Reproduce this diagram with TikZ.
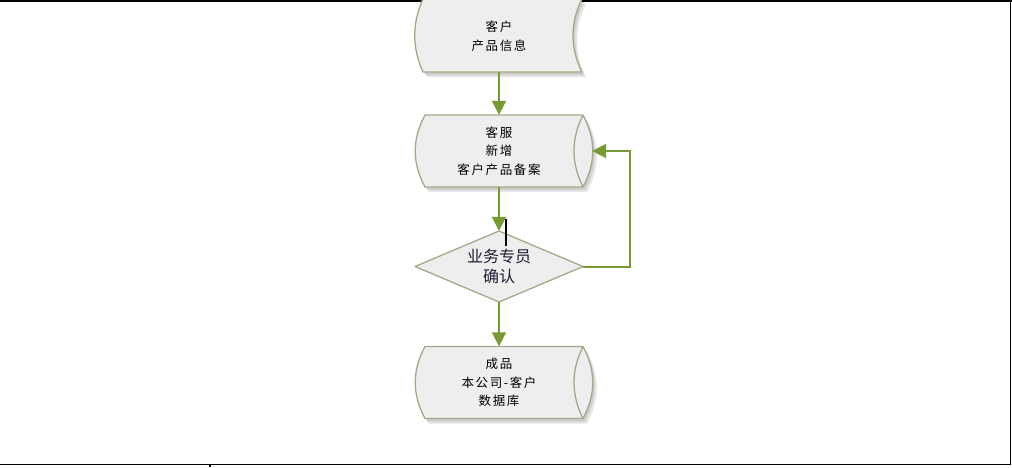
\documentclass[tikz,border=0pt]{standalone}
\usepackage{fontspec}
\newfontfamily\cjk[LetterSpace=13]{Noto Sans CJK SC}
\newfontfamily\cjkd{Noto Sans CJK SC}
\usetikzlibrary{arrows.meta,shapes.geometric}
\definecolor{flow}{HTML}{789A32}
\definecolor{edgec}{HTML}{A5A88A}
\definecolor{bodyc}{HTML}{EEEEEE}
\tikzset{
  symb/.style={draw=edgec, line width=1.3pt, fill=bodyc, line join=round},
  shad/.style={fill=black, opacity=0.10},
  frame/.style={line width=1.4pt, black},
  conn/.style={draw=flow, line width=2pt, -{Triangle[length=14pt,width=14pt]}},
  lbl/.style={font=\cjk\fontsize{12.5}{18.5}\selectfont, align=center, text=black},
  slot/.style={minimum width=168pt, minimum height=72pt, inner sep=0pt}
}
\newcommand\tapeshape{(423,-1) -- (582,-1) .. controls (570,23) and (570,48) .. (582,72) -- (423,72) .. controls (412,48) and (412,23) .. (423,-1) -- cycle}
\newcommand\cylshape{(425,0) -- (583,0) .. controls (596,24) and (596,48) .. (583,72) -- (425,72) .. controls (412,48) and (412,24) .. (425,0) -- cycle}
\newcommand\cylarc{(583,0) .. controls (571,24) and (571,48) .. (583,72)}
\newcommand\diashape{(415,266.5) -- (499,231) -- (583,266.5) -- (499,302) -- cycle}
\begin{document}
\begin{tikzpicture}[x=1pt,y=-1pt]
\useasboundingbox (0,0) rectangle (1012,467);
% frame
\draw[frame] (0,1) -- (1012,1);
\draw[frame] (1010.5,0) -- (1010.5,465);
\draw[frame] (0,464.5) -- (1011,464.5);
\draw[frame] (210,464.5) -- (210,467);
% shadows
\path[shad, shift={(4,5)}] \tapeshape;
\path[shad, shift={(2,3)}] \tapeshape;
\begin{scope}[shift={(0,115)}]
\path[shad, shift={(4,5)}] \cylshape;
\path[shad, shift={(2,3)}] \cylshape;
\end{scope}
\begin{scope}[shift={(0,346.5)}]
\path[shad, shift={(4,5)}] \cylshape;
\path[shad, shift={(2,3)}] \cylshape;
\end{scope}
% shapes
\draw[symb] \tapeshape;
\begin{scope}[shift={(0,115)}]
\draw[symb] \cylshape;
\draw[draw=edgec, line width=1.3pt] \cylarc;
\end{scope}
\begin{scope}[shift={(0,346.5)}]
\draw[symb] \cylshape;
\draw[draw=edgec, line width=1.3pt] \cylarc;
\end{scope}
\draw[symb] \diashape;
% nodes
\node[slot, lbl] (src) at (499,36) {客户\\产品信息};
\node[slot, lbl, minimum width=186pt] (svc) at (499,151) {客服\\新增\\客户产品备案};
\node[slot, minimum height=71pt, font=\cjkd\fontsize{16}{20.5}\selectfont, align=center,
      text={rgb,255:red,30;green,30;blue,50}] (chk) at (499,266.5) {业务专员\\确认};
\node[slot, lbl] (db) at (499,382.5) {成品\\本公司-客户\\数据库};
% cursor mark
\draw[black, line width=1.3pt] (506,219) -- (506,246);
% connectors
\draw[conn] (src.south) -- (svc.north);
\draw[conn] (svc.south) -- (chk.north);
\draw[conn] (chk.south) -- (db.north);
\draw[conn] (chk.east) -- (630,266.5) |- (svc.east);
\end{tikzpicture}
\end{document}
